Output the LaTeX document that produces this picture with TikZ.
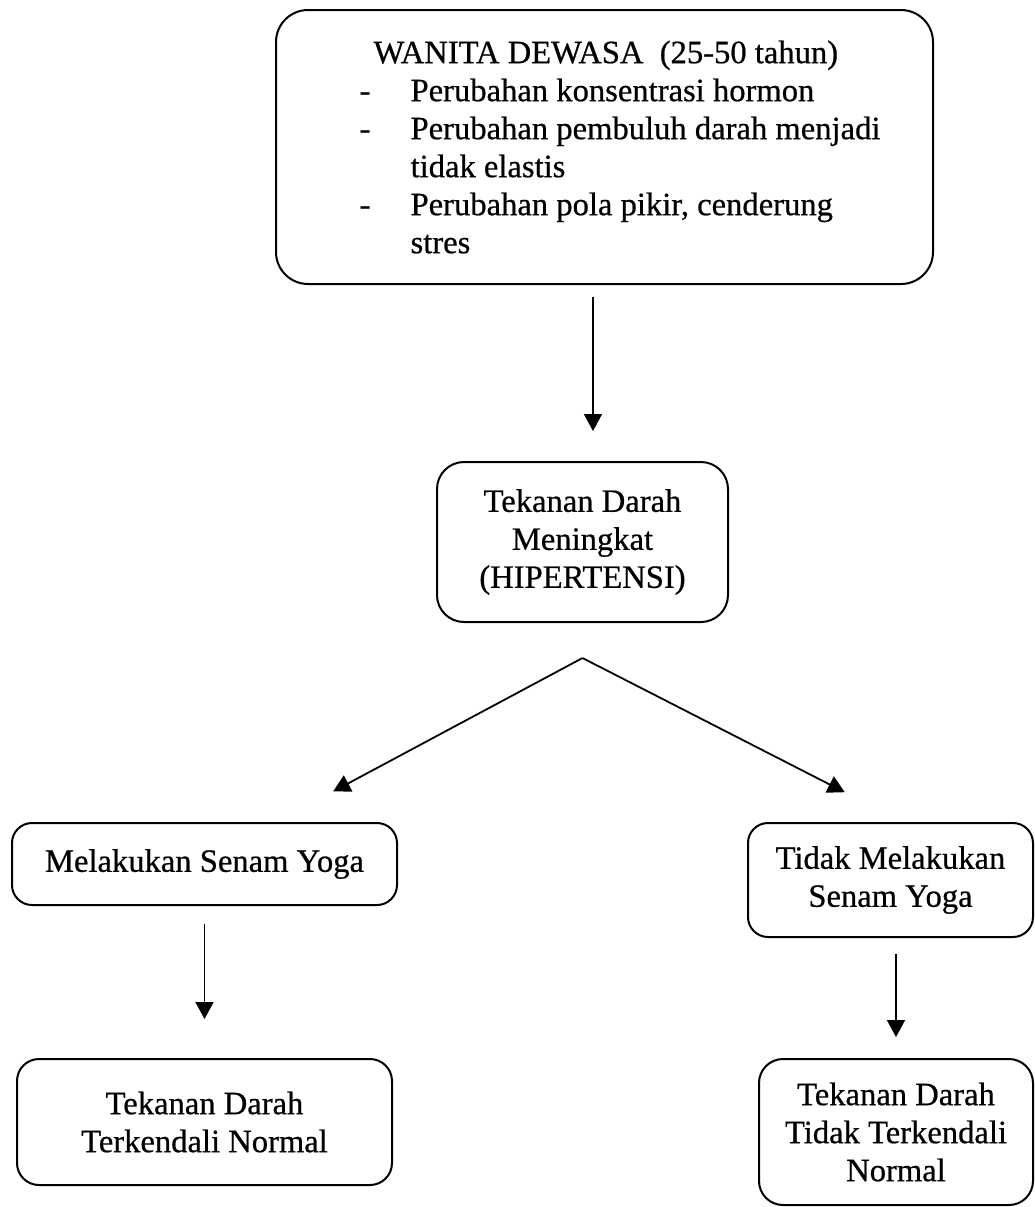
\documentclass[tikz,border=0pt]{standalone}
\usepackage{fontspec}
\setmainfont[FakeBold=0.6]{Liberation Serif}
\usetikzlibrary{arrows.meta,calc}
\begin{document}
\begin{tikzpicture}[x=0.5pt,y=-0.5pt,
  every node/.style={font=\fontsize{16.3}{19}\selectfont},
  box/.style={draw, line width=1pt, rounded corners=10pt, align=center, inner sep=0pt},
  arr/.style={draw, line width=0.9pt, -{Triangle[length=8.5pt,width=9pt]}}]
\useasboundingbox (0,0) rectangle (1035,1207);
\node[box, rounded corners=16pt, minimum width=328.5pt, minimum height=137pt, align=left] (top) at (604.5,147)
 {\hspace*{22.5pt}WANITA DEWASA\ \ (25-50 tahun)\\
  \hspace*{15.5pt}\makebox[25.5pt][l]{-}Perubahan konsentrasi hormon\\
  \hspace*{15.5pt}\makebox[25.5pt][l]{-}Perubahan pembuluh darah menjadi\\
  \hspace*{41pt}tidak elastis\\
  \hspace*{15.5pt}\makebox[25.5pt][l]{-}Perubahan pola pikir, cenderung\\
  \hspace*{41pt}stres};
\node[box, rounded corners=13.5pt, minimum width=145.5pt, minimum height=80pt] (mid) at (582.5,542)
 {Tekanan Darah\\Meningkat\\(HIPERTENSI)};
\node[box, minimum width=192.5pt, minimum height=41pt] (left) at (204.5,864) {Melakukan Senam Yoga};
\node[box, minimum width=142.5pt, minimum height=57pt] (right) at (890.5,880) {Tidak Melakukan\\Senam Yoga};
\node[box, rounded corners=11pt, minimum width=187.5pt, minimum height=63pt] (bl) at (204.5,1122) {Tekanan Darah\\Terkendali Normal};
\node[box, rounded corners=12pt, minimum width=137pt, minimum height=73pt] (br) at (896,1132) {Tekanan Darah\\Tidak Terkendali\\Normal};
\coordinate (apex) at ($(mid.south)+(0,35)$);
\draw[arr, shorten <=6pt, shorten >=15pt] ($(top.south)+(-11.5,0)$) -- ($(mid.north)+(10.5,0)$);
\draw[arr, shorten >=32.4pt] (apex) -- ($(left.north)+(71.5,0)$);
\draw[arr, shorten >=32.7pt] (apex) -- ($(right.north)+(12.5,0)$);
\draw[arr, shorten <=9pt, shorten >=19.5pt] (left.south) -- (bl.north);
\draw[arr, shorten <=8pt, shorten >=10.5pt] (right.south -| br.north) -- (br.north);
\end{tikzpicture}
\end{document}
